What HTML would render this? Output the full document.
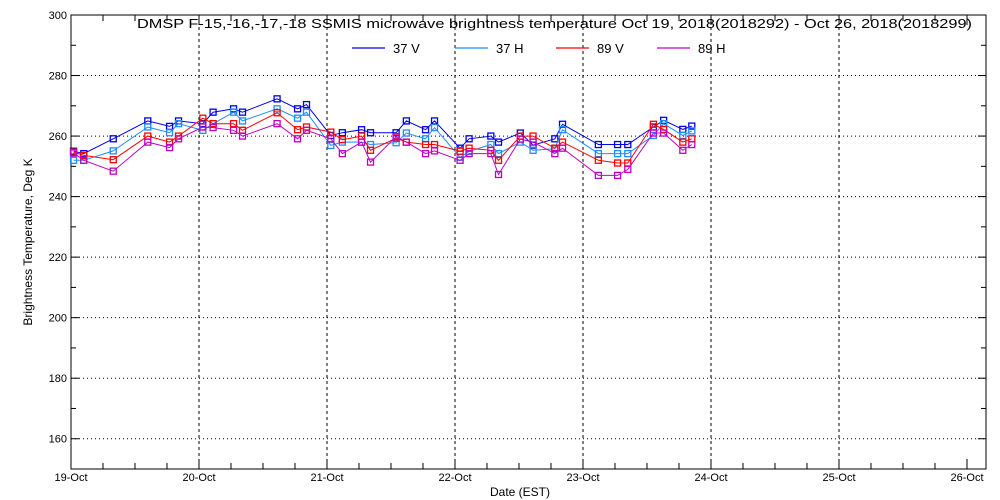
<!DOCTYPE html>
<html><head><meta charset="utf-8"><style>
html,body{margin:0;padding:0;background:#fff;}
svg{display:block;font-family:"Liberation Sans",sans-serif;}
</style></head><body>
<svg id="chart" width="1000" height="500" viewBox="0 0 1000 500" xmlns="http://www.w3.org/2000/svg">
<rect width="1000" height="500" fill="#fff"/>
<g id="grid"></g>
<g id="axes"></g>
<g id="series"></g>
<text x="137" y="28" font-size="13" textLength="835" lengthAdjust="spacingAndGlyphs">DMSP F-15,-16,-17,-18 SSMIS microwave brightness temperature Oct 19, 2018(2018292) - Oct 26, 2018(2018299)</text>
<g id="legend"></g>
<text x="520" y="496" font-size="12" text-anchor="middle">Date (EST)</text>
<text transform="translate(32,242) rotate(-90)" font-size="12" text-anchor="middle">Brightness Temperature, Deg K</text>
</svg>
<script>
const dayLabels=["19-Oct","20-Oct","21-Oct","22-Oct","23-Oct","24-Oct","25-Oct","26-Oct"];
const yTicks=[160,180,200,220,240,260,280,300];
const times=[0.02,0.10,0.33,0.60,0.77,0.84,1.03,1.11,1.27,1.34,1.61,1.77,1.84,2.03,2.12,2.27,2.34,2.54,2.62,2.77,2.84,3.04,3.11,3.28,3.34,3.51,3.61,3.78,3.84,4.12,4.27,4.35,4.55,4.63,4.78,4.85];
const v37V=[255,254.2,259.1,265,263.2,265,264.1,267.9,269,267.9,272.3,269,270.4,260.2,261.1,262.1,261.1,261.1,265,262.1,265,256,259.1,260,258,261,257,259.1,263.9,257.2,257.2,257.2,263,265.2,262.2,263.3];
const v37H=[252,252,255.1,263,261.1,264.1,261.9,264.1,267.9,265,269,265.9,267.9,256.9,258,258,257.2,257.8,261,259.1,262.8,253,254.9,257.2,254.2,258,255.3,255.8,262.1,254.2,254.2,254.2,260.2,264.1,260.2,261.7];
const v89V=[254.7,253.6,252.2,260,258,260,265.9,264.1,264.1,261.9,267.7,262.1,263,261.3,258.8,260,255.3,259.3,258,257.2,257.2,255,256,255.3,252,260,260,256,258,252,251.1,251.1,263.9,262.2,258,259.1];
const v89H=[254.4,252,248.4,258,256.2,259.1,263,262.8,261.9,260,264.1,259.1,261.9,259.1,254.2,258,251.4,259.8,258,254.2,255.1,252,254.2,254.2,247.3,259,258,254.2,256,247,247,249,261,261,255.3,257.2];
const seriesNames=["37 V","37 H","89 V","89 H"];
const seriesColors=["#0000e6","#1e8cff","#ff0000","#c000c0"];
const seriesData=[v37V,v37H,v89V,v89H];

const L=71,R=986,T=15,B=469,DAY=128;
const X=d=>L+d*DAY;
const Y=v=>T+(300-v)*(B-T)/150;
const NS="http://www.w3.org/2000/svg";
function mk(tag,attrs,parent){const e=document.createElementNS(NS,tag);for(const k in attrs)e.setAttribute(k,attrs[k]);parent.appendChild(e);return e;}
const grid=document.getElementById('grid'),axes=document.getElementById('axes'),ser=document.getElementById('series'),leg=document.getElementById('legend');

yTicks.forEach(v=>{
  if(v<300){const g=mk('line',{x1:L,x2:R,y1:Y(v),y2:Y(v),stroke:'#000','stroke-width':1,'stroke-dasharray':'1,3'},grid);
  
  }
  const t=mk('text',{x:L-4,y:Y(v)+4,'font-size':11,'text-anchor':'end'},axes);t.textContent=v;
  
  
});
for(let v=150;v<=300;v+=10){
  const len=(v%20===0)?8:5;
  mk('line',{x1:L,x2:L+len,y1:Y(v),y2:Y(v),stroke:'#000'},axes);
  mk('line',{x1:R,x2:R-len,y1:Y(v),y2:Y(v),stroke:'#000'},axes);
}
dayLabels.forEach((lab,i)=>{
  const x=X(i);
  if(i>0&&i<7){const g=mk('line',{x1:x,x2:x,y1:T,y2:B,stroke:'#000','stroke-dasharray':'3,3'},grid);
  
  }
  const t=mk('text',{x:x,y:481,'font-size':11,'text-anchor':'middle'},axes);t.textContent=lab;
  
  
});
for(let q=0;q<=28;q++){
  const x=X(q/4);if(x>R)break;
  const len=(q%4===0)?10:6;
  mk('line',{x1:x,x2:x,y1:B,y2:B-len,stroke:'#000'},axes);
  mk('line',{x1:x,x2:x,y1:T,y2:T+len,stroke:'#000'},axes);
}
const fr=mk('rect',{x:L,y:T,width:R-L,height:B-T,fill:'none',stroke:'#000','stroke-width':1},axes);



seriesData.forEach((vals,si)=>{
  const col=seriesColors[si];
  const g=mk('g',{},ser);
  
  
  const pts=vals.map((v,i)=>X(times[i]).toFixed(1)+','+Y(v).toFixed(1)).join(' ');
  mk('polyline',{points:pts,fill:'none',stroke:col,'stroke-width':1},g);
  vals.forEach((v,i)=>{
    const r=mk('rect',{x:X(times[i])-3,y:Y(v)-3,width:6,height:6,fill:'none',stroke:col,'stroke-width':1.3},g);
    
    
  });
});

const legX=[352,455,556,657];
seriesNames.forEach((n,i)=>{
  const g=mk('g',{},leg);
  
  
  mk('line',{x1:legX[i],x2:legX[i]+33,y1:48,y2:48,stroke:seriesColors[i],'stroke-width':1.2},g);
  const t=mk('text',{x:legX[i]+41,y:53,'font-size':13},g);t.textContent=n;
});
</script>
</body></html>
